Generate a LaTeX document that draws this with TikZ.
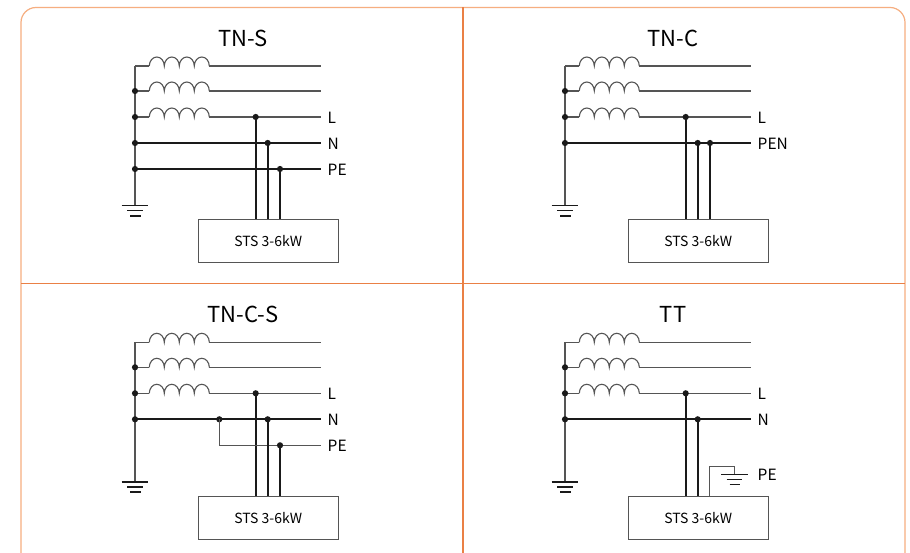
\documentclass[tikz,border=0pt]{standalone}
\usepackage{fontspec}
\setmainfont{Noto Sans CJK SC}
\definecolor{framecol}{HTML}{F6AE80}
\definecolor{divcol}{HTML}{EA8045}
\definecolor{thincol}{HTML}{555555}
\definecolor{thickcol}{HTML}{1A1A1A}
\tikzset{
  thinw/.style={draw=thincol, line width=1.1pt},
  thickw/.style={draw=thickcol, line width=2.3pt},
  busw/.style={draw=thincol, line width=1.4pt},
  jdot/.style={circle, fill=thickcol, inner sep=0pt, minimum size=6.2pt},
  boxst/.style={draw=thincol, line width=1.1pt, minimum width=140pt, minimum height=43pt, inner sep=0pt, font=\fontsize{14}{16}\selectfont, anchor=north west},
  titlest/.style={font=\fontsize{22}{24}\selectfont, inner sep=0pt},
  labst/.style={font=\fontsize{15.5}{17}\selectfont, inner sep=0pt, anchor=west},
  gndw/.style={draw=thickcol, line width=1.6pt},
}
% coil between two named coordinates (60pt long, 4 humps)
\newcommand{\coil}[2]{\draw[thinw] (#1) arc[start angle=180,end angle=360,x radius=7.5,y radius=9]
  arc[start angle=180,end angle=360,x radius=7.5,y radius=9]
  arc[start angle=180,end angle=360,x radius=7.5,y radius=9]
  arc[start angle=180,end angle=360,x radius=7.5,y radius=9] -- (#2);}
% common source part of a panel: bus, three phase windings, neutral line, earth
\newcommand{\source}[2]{% #1 prefix, #2 N label
  \coordinate (#1b0) at (135,66);
  \coordinate (#1b1) at (135,91);
  \coordinate (#1b2) at (135,117);
  \coordinate (#1b3) at (135,143);
  \coordinate (#1g) at (135,205);
  \foreach \i/\yy in {0/66,1/91,2/117}{
    \coordinate (#1cs\i) at (149.3,\yy);
    \coordinate (#1ce\i) at (209.3,\yy);
    \coordinate (#1e\i) at (321,\yy);
    \draw[thinw] (#1b\i) -- (#1cs\i);
    \coil{#1cs\i}{#1ce\i}
    \draw[thinw] (#1ce\i) -- (#1e\i);
  }
  \coordinate (#1e3) at (321,143);
  \draw[thickw] (#1b3) -- (#1e3);
  \draw[busw] (#1b0) -- (#1g);
  \coordinate (#1ga1) at (121.7,205.5); \coordinate (#1gb1) at (148.3,205.5);
  \coordinate (#1ga2) at (127.3,210.7); \coordinate (#1gb2) at (142.7,210.7);
  \coordinate (#1ga3) at (130,215.8);   \coordinate (#1gb3) at (140.5,215.8);
  \draw[gndw] (#1ga1) -- (#1gb1);
  \draw[gndw] (#1ga2) -- (#1gb2);
  \draw[gndw] (#1ga3) -- (#1gb3);
  \node[jdot] (#1d1) at (#1b1) {};
  \node[jdot] (#1d2) at (#1b2) {};
  \node[jdot] (#1d3) at (#1b3) {};
  \node[labst] (#1lL) at (327.5,118) {L};
  \node[labst] (#1lN) at (327.5,144) {#2};
  \node (#1box) [boxst] at (197.7,219.3) {STS 3-6kW};
  \coordinate (#1tL) at (255.7,219.3);
  \coordinate (#1tN) at (267.7,219.3);
  \coordinate (#1tP) at (280,219.3);
  \node[jdot] (#1jL) at (255.7,117) {};
  \draw[thickw] (#1jL.center) -- (#1tL);
}
\begin{document}
\begin{tikzpicture}[x=1pt,y=-1pt]
\useasboundingbox (0,0) rectangle (910,553);
\clip (0,0) rectangle (910,553);
\fill[white] (0,0) rectangle (910,553);
% frame and dividers
\draw[framecol, line width=1.2pt, rounded corners=15pt] (21,7.5) rectangle (905,572);
\coordinate (vt) at (463,7.5); \coordinate (vb) at (463,553);
\coordinate (hl) at (21,283.5); \coordinate (hr) at (905,283.5);
\draw[divcol, line width=1.1pt] (vt) -- (vb);
\draw[divcol, line width=1.1pt] (hl) -- (hr);

% ---------------- TN-S
\begin{scope}
  \node[titlest] (t1) at (243,38) {TN-S};
  \source{a}{N}
  \coordinate (aePE) at (321,169);
  \coordinate (ab4) at (135,169);
  \draw[thickw] (ab4) -- (aePE);
  \node[jdot] (ad4) at (ab4) {};
  \node[labst] (alP) at (327.5,170) {PE};
  \node[jdot] (ajN) at (267.7,143) {};
  \node[jdot] (ajP) at (280,169) {};
  \draw[thickw] (ajN.center) -- (atN);
  \draw[thickw] (ajP.center) -- (atP);
\end{scope}

% ---------------- TN-C
\begin{scope}[shift={(430,0)}]
  \node[titlest] (t2) at (243,38) {TN-C};
  \source{b}{PEN}
  \node[jdot] (bjN) at (267.7,143) {};
  \node[jdot] (bjP) at (280,143) {};
  \draw[thickw] (bjN.center) -- (btN);
  \draw[thickw] (bjP.center) -- (btP);
\end{scope}

% ---------------- TN-C-S
\begin{scope}[shift={(0,276.3)}]
  \node[titlest] (t3) at (243,38.5) {TN-C-S};
  \source{c}{N}
  \node[jdot] (cjB) at (219.3,143) {};
  \coordinate (cbr) at (219.3,169);
  \coordinate (cePE) at (321,169);
  \draw[thinw] (cjB.center) -- (cbr) -- (cePE);
  \node[labst] (clP) at (327.5,170) {PE};
  \node[jdot] (cjN) at (267.7,143) {};
  \node[jdot] (cjP) at (280,169) {};
  \draw[thickw] (cjN.center) -- (ctN);
  \draw[thickw] (cjP.center) -- (ctP);
\end{scope}

% ---------------- TT
\begin{scope}[shift={(430,276.3)}]
  \node[titlest] (t4) at (243,38.5) {TT};
  \source{d}{N}
  \node[jdot] (djN) at (267.7,143) {};
  \draw[thickw] (djN.center) -- (dtN);
  \coordinate (dpb) at (279.3,219.3);
  \coordinate (dpu) at (279.3,190.3);
  \coordinate (dpr) at (304.3,190.3);
  \coordinate (dpg) at (304.3,198);
  \draw[thinw] (dpb) -- (dpu) -- (dpr) -- (dpg);
  \coordinate (dqa1) at (291,198); \coordinate (dqb1) at (317.6,198);
  \coordinate (dqa2) at (296.7,203.2); \coordinate (dqb2) at (311.9,203.2);
  \coordinate (dqa3) at (299.5,208.2); \coordinate (dqb3) at (309.5,208.2);
  \draw[gndw] (dqa1) -- (dqb1);
  \draw[gndw] (dqa2) -- (dqb2);
  \draw[gndw] (dqa3) -- (dqb3);
  \node[labst] (dlP) at (327.5,198.5) {PE};
\end{scope}
\end{tikzpicture}
\end{document}
